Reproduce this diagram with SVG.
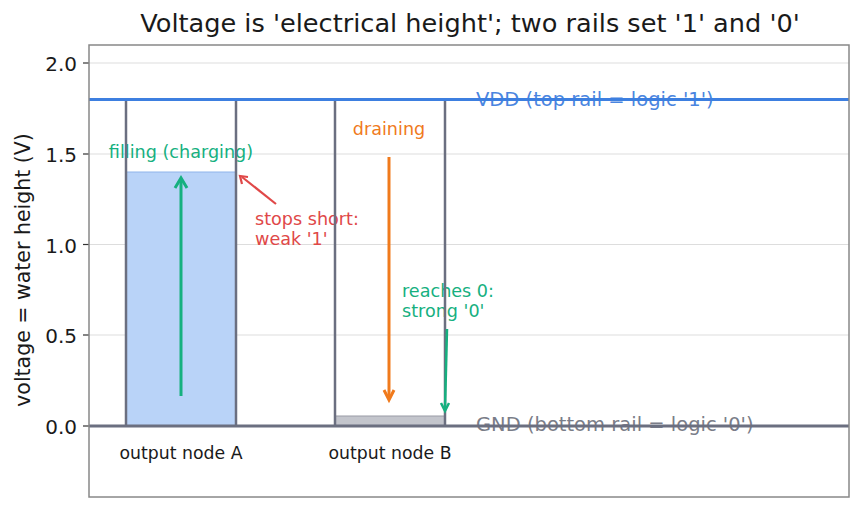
<svg xmlns="http://www.w3.org/2000/svg" width="862" height="512" viewBox="0 0 862 512">
<style>
text{font-family:"DejaVu Sans","Liberation Sans",sans-serif}
.tick{font-size:20px;fill:#1a1a1a;text-anchor:end}
.grid{stroke:#d4d4d4;stroke-width:0.8}
.wall{stroke:#6b6f80;stroke-width:2.5;fill:none}
.lbl{font-size:17.3px;fill:#1a1a1a;text-anchor:middle}
.ann{font-size:17.6px}
.rail{font-size:19.5px}
</style>
<rect width="862" height="512" fill="#fff"/>
<text x="470" y="32" font-size="25.6" text-anchor="middle" fill="#1a1a1a">Voltage is 'electrical height'; two rails set '1' and '0'</text>
<g id="grid">
<line class="grid" x1="89" y1="63" x2="849" y2="63"/>
<line class="grid" x1="89" y1="154" x2="849" y2="154"/>
<line class="grid" x1="89" y1="244.5" x2="849" y2="244.5"/>
<line class="grid" x1="89" y1="335" x2="849" y2="335"/>
</g>
<g id="ticks" stroke="#333" stroke-width="1.2">
<line x1="83" y1="63" x2="89" y2="63"/>
<line x1="83" y1="154" x2="89" y2="154"/>
<line x1="83" y1="244.5" x2="89" y2="244.5"/>
<line x1="83" y1="335" x2="89" y2="335"/>
<line x1="83" y1="426" x2="89" y2="426"/>
</g>
<g id="ticklabels">
<text class="tick" x="77" y="71">2.0</text>
<text class="tick" x="77" y="162">1.5</text>
<text class="tick" x="77" y="252.5">1.0</text>
<text class="tick" x="77" y="343">0.5</text>
<text class="tick" x="77" y="434">0.0</text>
</g>
<text transform="translate(30,270) rotate(-90)" font-size="20.5" text-anchor="middle" fill="#1a1a1a">voltage = water height (V)</text>
<g id="annotations">
<text class="ann" x="181" y="158" text-anchor="middle" fill="#16b07f">filling (charging)</text>
<text class="ann" x="255" y="225" fill="#e04848">stops short:</text>
<text class="ann" x="255" y="245" fill="#e04848">weak '1'</text>
<text class="ann" x="389" y="135" text-anchor="middle" fill="#f07a1c">draining</text>
<text class="ann" x="402" y="297" fill="#16b07f">reaches 0:</text>
<text class="ann" x="402" y="317" fill="#16b07f">strong '0'</text>
<text class="rail" x="476" y="106" fill="#4a85e0">VDD (top rail = logic '1')</text>
<text class="rail" x="476" y="431" fill="#7a7d88">GND (bottom rail = logic '0')</text>
</g>
<g id="tankA">
<rect x="126" y="172" width="110" height="254" fill="#b9d3f8"/>
<line x1="126" y1="172" x2="236" y2="172" stroke="#8fb4ea" stroke-width="1"/>
<polyline class="wall" points="126,99 126,426"/>
<polyline class="wall" points="236,99 236,426"/>
<text class="lbl" x="181" y="459">output node A</text>
</g>
<g id="tankB">
<rect x="335" y="416" width="110" height="10" fill="#c3c5cc" stroke="#9a9ca6" stroke-width="1"/>
<polyline class="wall" points="335,99 335,426"/>
<polyline class="wall" points="445,99 445,426"/>
<text class="lbl" x="390" y="459">output node B</text>
</g>
<g id="vdd">
<line x1="89" y1="99.5" x2="849" y2="99.5" stroke="#3d7fe0" stroke-width="3"/>
</g>
<g id="gnd">
<line x1="89" y1="426" x2="849" y2="426" stroke="#6b6f80" stroke-width="3"/>
</g>
<g id="connectors" fill="none" stroke-width="2.5">
<line x1="181" y1="396" x2="181" y2="180" stroke="#16b07f" stroke-width="3"/>
<path d="M175,188 L181,178 L187,188" stroke="#16b07f" stroke-width="3"/>
<line x1="276" y1="204" x2="242" y2="177" stroke="#e04848" stroke-width="2.2"/>
<path d="M242,184 L240,176 L248,177" stroke="#e04848" stroke-width="2.2"/>
<line x1="389" y1="157" x2="389" y2="399" stroke="#f07a1c" stroke-width="3"/>
<path d="M384,390 L389,400 L394,390" stroke="#f07a1c" stroke-width="3"/>
<line x1="447" y1="329" x2="445" y2="409" stroke="#16b07f" stroke-width="2.5"/>
<path d="M441,403 L445,411 L449,403" stroke="#16b07f" stroke-width="2.5"/>
</g>
<rect x="89" y="45" width="760" height="452" fill="none" stroke="#888" stroke-width="1.5"/>
</svg>
